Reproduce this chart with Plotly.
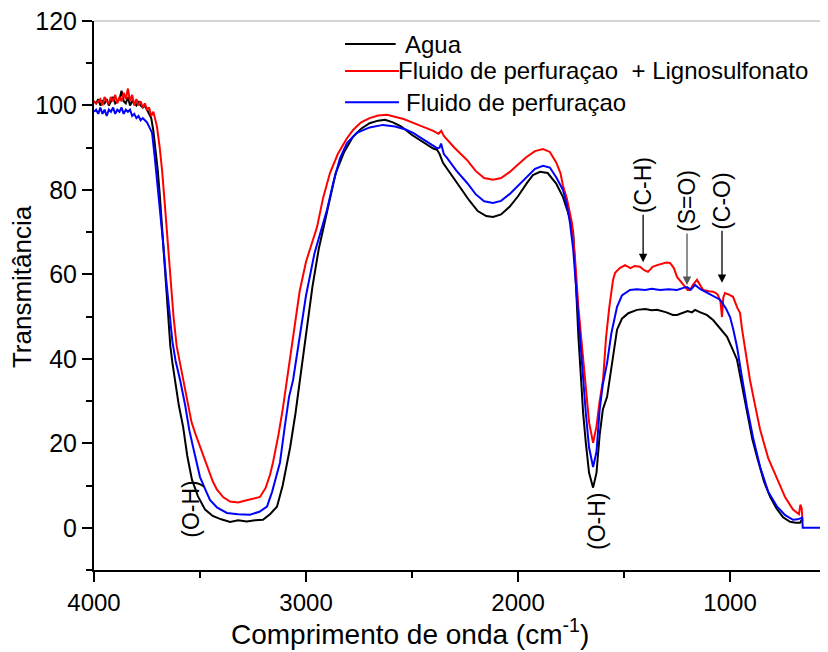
import plotly.graph_objects as go

# ---------------- data ----------------
agua_x = [4000, 3990, 3980, 3970, 3960, 3950, 3940, 3930, 3920, 3910, 3900, 3890, 3880, 3870, 3860, 3850,
          3840, 3830, 3820, 3810, 3800, 3790, 3780, 3770, 3760, 3750, 3740, 3730, 3720, 3710, 3700, 3690,
          3680, 3670, 3660, 3650, 3640, 3630, 3618, 3600, 3580, 3560, 3538, 3510, 3476, 3440, 3400, 3358,
          3320, 3280, 3240, 3203, 3170, 3137, 3110, 3075, 3050, 3028, 3000, 2970, 2940, 2920, 2890, 2860,
          2820, 2780, 2740, 2700, 2660, 2627, 2590, 2550, 2500, 2450, 2400, 2382, 2370, 2354, 2320, 2274,
          2230, 2190, 2150, 2118, 2080, 2040, 2000, 1960, 1930, 1896, 1860, 1820, 1788, 1760, 1740, 1731,
          1715, 1700, 1693, 1680, 1665, 1646, 1630, 1615, 1600, 1580, 1560, 1545, 1533, 1510, 1480, 1439,
          1400, 1370, 1344, 1300, 1270, 1250, 1220, 1200, 1180, 1165, 1140, 1110, 1080, 1050, 1014, 990,
          967, 945, 920, 895, 873, 840, 811, 780, 750, 717, 690, 670, 660]
agua_y = [101, 100.5, 101.5, 100, 101, 100.5, 101.5, 100, 101, 102, 100.5, 101, 101.5, 103.5, 101, 100.5,
          102, 100, 101, 100.5, 100, 101, 100, 99.5, 100, 99, 98, 97, 94, 90, 85, 79,
          72, 64, 56, 49, 43, 39, 35, 29, 24, 17, 11.4, 7.5, 4.3, 2.8, 2, 1.4,
          1.8, 1.5, 1.8, 1.9, 3.2, 5, 10, 19, 27, 35, 46, 57, 66, 70.5, 78, 84,
          89, 92.5, 94.5, 95.8, 96.4, 96.6, 96, 95, 93, 91.5, 89.8, 89.5, 88.5, 86.4, 84, 80.7,
          77.5, 75, 73.8, 73.6, 74.2, 76, 78.5, 81.5, 83.5, 84.3, 84, 81.5, 78.3, 74, 70, 62,
          45, 33, 27.2, 20, 13, 9.5, 13, 22, 28, 31, 38, 43, 46.9, 49.5, 50.8, 51.6,
          51.8, 51.5, 51.6, 51, 50.4, 50.4, 51, 51.3, 51, 51.6, 51, 50.4, 49.2, 47.5, 45.2, 42.5,
          39.8, 34, 27.2, 21, 16.8, 11, 7.3, 4.5, 2.5, 1.4, 1.2, 1.2, 2]

ligno_x = [4000, 3990, 3980, 3970, 3960, 3950, 3940, 3930, 3920, 3910, 3900, 3890, 3880, 3870, 3860, 3850,
           3840, 3830, 3820, 3810, 3800, 3790, 3780, 3770, 3760, 3750, 3740, 3730, 3720, 3710, 3703, 3690,
           3679, 3665, 3650, 3640, 3625, 3610, 3595, 3580, 3560, 3540, 3520, 3500, 3470, 3440, 3420, 3390,
           3358, 3320, 3280, 3250, 3217, 3190, 3170, 3156, 3130, 3110, 3090, 3060, 3030, 3000, 2970, 2948,
           2920, 2887, 2850, 2810, 2778, 2740, 2700, 2660, 2618, 2580, 2540, 2500, 2450, 2400, 2375, 2362,
           2350, 2300, 2241, 2200, 2160, 2118, 2080, 2040, 2000, 1960, 1920, 1882, 1850, 1820, 1800, 1788,
           1770, 1745, 1730, 1715, 1698, 1680, 1665, 1646, 1630, 1615, 1599, 1585, 1570, 1552, 1542, 1520,
           1495, 1470, 1450, 1425, 1405, 1387, 1365, 1344, 1320, 1300, 1283, 1265, 1250, 1220, 1200, 1189,
           1175, 1156, 1140, 1127, 1100, 1080, 1065, 1057, 1045, 1038, 1032, 1024, 1005, 986, 965, 953,
           943, 925, 906, 880, 858, 820, 778, 740, 703, 675, 668, 662, 658]
ligno_y = [101, 100.5, 101, 101.5, 100, 102, 101, 100.5, 102, 101, 102.5, 100.5, 102, 101, 103, 101.5,
           104, 101, 102.5, 100, 101.5, 100, 101, 99.5, 100.5, 99, 99.5, 97.5, 98.5, 96, 95, 90,
           84.7, 76, 66, 59, 50, 43, 39, 35, 30, 25, 22, 19.2, 15, 11, 9, 7.2,
           6.2, 6, 6.5, 6.8, 7.3, 9.5, 12.5, 15.4, 22, 28, 35, 45, 56, 63, 67.5, 71.2,
           78, 84, 88.5, 92, 94.2, 96, 97, 97.6, 97.8, 97.4, 96.8, 96, 95, 94, 93.3, 94,
           92.8, 90, 87.1, 84.5, 82.8, 82.4, 82.8, 84.2, 86, 87.8, 89.2, 89.7, 89, 86.5, 84, 81,
           78, 72, 63, 52, 42.8, 33, 25, 20.1, 24, 30, 35, 45, 52, 58.7, 60.4, 61.5,
           62.2, 61.5, 62, 61.8, 61, 60.6, 61.8, 62.2, 62.5, 62.8, 62.7, 61.5, 59.4, 57.5, 56.3, 56.3,
           57.5, 58.7, 57.5, 56.3, 56, 55.9, 55.5, 55.1, 53.5, 49.9, 54.5, 55.6, 55.2, 54.7, 52, 50.9,
           46.9, 41, 35, 28.5, 23.2, 16.5, 11.4, 7.2, 4.3, 3.2, 5.5, 4.5, 1.5]

fluido_x = [4000, 3990, 3980, 3970, 3960, 3950, 3940, 3930, 3920, 3910, 3900, 3890, 3880, 3870, 3860, 3850,
            3840, 3830, 3820, 3810, 3800, 3790, 3780, 3770, 3760, 3750, 3740, 3726, 3712, 3700, 3689, 3675,
            3660, 3645, 3630, 3615, 3594, 3570, 3550, 3533, 3500, 3470, 3453, 3420, 3373, 3320, 3264, 3220,
            3184, 3160, 3140, 3123, 3100, 3080, 3061, 3030, 3000, 2960, 2930, 2901, 2870, 2840, 2807, 2760,
            2700, 2637, 2580, 2530, 2495, 2450, 2400, 2382, 2370, 2363, 2350, 2335, 2290, 2241, 2200, 2160,
            2118, 2080, 2040, 2000, 1960, 1920, 1882, 1850, 1820, 1788, 1770, 1755, 1740, 1725, 1710, 1695,
            1680, 1665, 1646, 1630, 1615, 1600, 1580, 1560, 1545, 1533, 1510, 1472, 1440, 1400, 1370, 1330,
            1290, 1250, 1220, 1203, 1185, 1165, 1140, 1108, 1080, 1047, 1020, 1000, 985, 967, 945, 920,
            890, 858, 820, 778, 740, 703, 680, 660, 657, 538]
fluido_y = [98.5, 99, 98, 99.5, 98, 99, 97.5, 99, 98.5, 99.5, 98, 99, 98.5, 99.5, 98, 99,
            98.5, 99, 97.5, 98, 97, 97.5, 96.5, 97, 96.5, 96, 95, 93.5, 87, 81, 76, 68,
            59, 51, 44, 39.5, 35, 29, 23, 19.2, 12, 8.5, 6.6, 4.8, 3.5, 3.2, 3.1, 3.8,
            5, 8.5, 12, 15.4, 24, 31, 35, 45, 55, 65, 70, 75.3, 82, 87.5, 91.1, 93.5,
            94.8, 95.4, 95, 94.3, 93.5, 92, 90.5, 89.9, 90, 91, 88.5, 87.6, 84.5, 81.7, 79, 77.3,
            76.9, 77.4, 79, 81, 83.2, 85, 85.7, 85.3, 83, 80, 76.5, 72.2, 66, 56, 45, 35,
            27, 19, 14.4, 18, 28, 34, 39, 46, 50, 52.3, 55, 56.3, 56.5, 56.3, 56.6, 56.3,
            56.5, 56.3, 56.8, 57, 56.4, 57.5, 56.5, 55.6, 55, 54, 52, 49.9, 47, 42.8, 36, 28.6,
            21, 14.4, 8.5, 5, 3, 1.9, 2, 2.4, 0, 0]

series_names = ["Agua", "Fluido de perfuraçao \u00a0+ Lignosulfonato", "Fluido de perfuraçao"]
series_colors = ["#000000", "#ff0000", "#0000ff"]

x_ticks = [4000, 3000, 2000, 1000]
y_ticks = [0, 20, 40, 60, 80, 100, 120]

# O-H labels (no arrow)
oh_labels = ["(O-H)", "(O-H)"]
oh_x = [3542, 1627]
oh_y = [4.3, 1.4]
# labelled arrows: arrow tip position in data units
arrow_labels = ["(C-H)", "(S=O)", "(C-O)"]
arrow_x = [1410, 1203, 1038]
arrow_y = [62.9, 57.5, 58.0]
arrow_label_offset = [-77, -84, -82]
arrow_colors = ["#000000", "#555555", "#000000"]

FONT = "Liberation Sans, Arial, sans-serif"

fig = go.Figure()
for xs, ys, name, col in zip([agua_x, ligno_x, fluido_x], [agua_y, ligno_y, fluido_y],
                             series_names, series_colors):
    fig.add_trace(go.Scatter(x=xs, y=ys, mode="lines", name=name,
                             line=dict(color=col, width=2), showlegend=False))

fig.update_layout(
    width=820, height=644,
    margin=dict(l=86, r=0, t=13, b=82),
    paper_bgcolor="white", plot_bgcolor="white",
    font=dict(family=FONT, color="#000000"),
    xaxis=dict(range=[4000, 538], tickvals=x_ticks, ticktext=[str(v) for v in x_ticks],
               ticks="outside", ticklen=10, tickwidth=1.5, tickcolor="black",
               showline=True, linecolor="black", linewidth=2, showgrid=False, zeroline=False,
               tickfont=dict(size=24, family=FONT), ticklabeloverflow="allow",
               minor=dict(tickvals=[3500, 2500, 1500, 500], ticks="outside", ticklen=6,
                          tickwidth=1.5, tickcolor="black", showgrid=False)),
    yaxis=dict(range=[-10, 120], tickvals=y_ticks, ticktext=[str(v) for v in y_ticks],
               ticks="outside", ticklen=10, tickwidth=1.5, tickcolor="black",
               showline=True, linecolor="black", linewidth=2, showgrid=False, zeroline=False,
               tickfont=dict(size=25, family=FONT), ticklabeloverflow="allow",
               minor=dict(tickvals=[-10, 10, 30, 50, 70, 90, 110], ticks="outside", ticklen=6,
                          tickwidth=1.5, tickcolor="black", showgrid=False)),
)

# thin top frame line
fig.add_shape(type="line", xref="paper", yref="paper", x0=0, x1=1, y0=1, y1=1,
              line=dict(color="#aaaaaa", width=1))

# axis titles
fig.add_annotation(text="Comprimento de onda (cm<sup>-1</sup>)", xref="paper", yref="paper",
                   x=0.4305, y=-0.113, xanchor="center", yanchor="middle", showarrow=False,
                   font=dict(size=28, family=FONT))
fig.add_annotation(text="Transmitância", xref="paper", yref="paper",
                   x=-0.098, y=0.5155, xanchor="center", yanchor="middle", showarrow=False,
                   textangle=-90, font=dict(size=26, family=FONT))

# custom legend
leg_y = [0.958, 0.909, 0.852]
leg_x0 = [0.342, 0.342, 0.342]
leg_x1 = [0.411, 0.4155, 0.4155]
leg_tx = [0.4215, 0.4115, 0.4225]
for name, col, ly, a, b, tx in zip(series_names, series_colors, leg_y, leg_x0, leg_x1, leg_tx):
    fig.add_shape(type="line", xref="paper", yref="paper", x0=a, x1=b, y0=ly, y1=ly,
                  line=dict(color=col, width=2))
    fig.add_annotation(text=name, xref="paper", yref="paper", x=tx, y=ly,
                       xanchor="left", yanchor="middle", showarrow=False,
                       font=dict(size=24, family=FONT))

# O-H band labels
for t, bx, by in zip(oh_labels, oh_x, oh_y):
    fig.add_annotation(text=t, x=bx, y=by, xanchor="center", yanchor="middle",
                       showarrow=False, textangle=-90, font=dict(size=23, family=FONT))

# labelled arrows
for t, ax_, ay_, off, col in zip(arrow_labels, arrow_x, arrow_y, arrow_label_offset, arrow_colors):
    fig.add_annotation(text=t, x=ax_, y=ay_, showarrow=True, ax=0, ay=off, textangle=-90,
                       font=dict(size=23, family=FONT, color="black"),
                       arrowhead=2, arrowsize=1.3, arrowwidth=1.3, arrowcolor=col)

fig.write_html("out.html")
